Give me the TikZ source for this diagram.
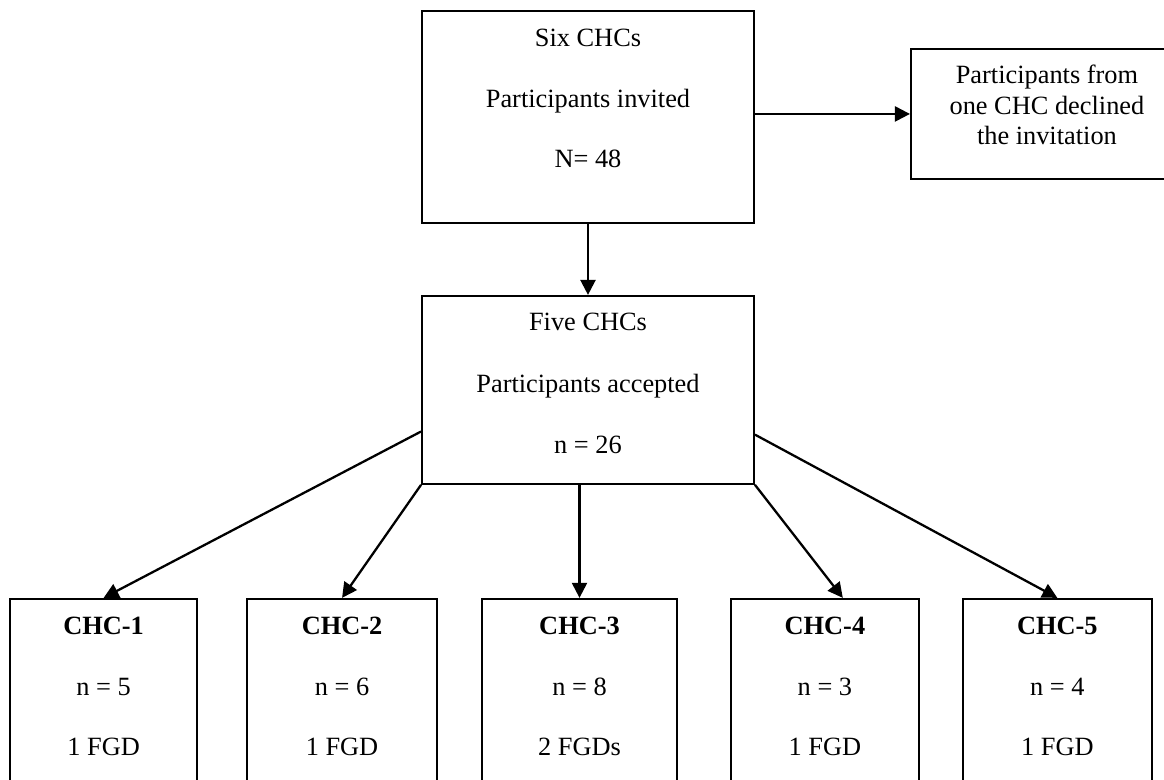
\documentclass[tikz,border=0pt]{standalone}
\usepackage{fontspec}
\setmainfont{Liberation Serif}
\usepackage{tikz}
\usetikzlibrary{arrows.meta,positioning}
\tikzstyle{recNode} = [rectangle, draw=black, line width=1.1pt, inner sep=0pt, align=center, font=\fontsize{15}{17.5}\selectfont]
\tikzstyle{bigNode} = [recNode, minimum width=6.64cm]
\tikzstyle{chcNode} = [recNode, text height=3.14cm, text depth=0.5cm]
\tikzstyle{arrow} = [line width=1.3pt,->,>={Triangle[length=0.3cm,width=0.3cm]},draw=black]

\begin{document}
\begin{tikzpicture}
        \useasboundingbox (0,0) rectangle (23.28,15.6);
        \clip (0,0) rectangle (23.28,15.6);

        \node (inv) [bigNode, text height=3.14cm, text depth=1.1cm, anchor=north] at (11.76,15.4) {Six CHCs\\[0.595cm]Participants invited\\[0.595cm]N= 48};
        \node (decl) [recNode, minimum width=5.44cm, text height=1.92cm, text depth=0.68cm, right=3.1cm of inv, yshift=0.06cm] {Participants from\\one CHC declined\\the invitation};
        \node (acc) [bigNode, text height=3.16cm, text depth=0.6cm, below=1.42cm of inv] {Five CHCs\\[0.615cm]Participants accepted\\[0.615cm]n = 26};

        \node (c3) [chcNode, minimum width=3.9cm, below=2.26cm of acc, xshift=-0.17cm] {\textbf{CHC-3}\\[0.595cm]n = 8\\[0.595cm]2 FGDs};
        \node (c2) [chcNode, minimum width=3.8cm, left=0.86cm of c3] {\textbf{CHC-2}\\[0.595cm]n = 6\\[0.595cm]1 FGD};
        \node (c1) [chcNode, minimum width=3.74cm, left=0.96cm of c2] {\textbf{CHC-1}\\[0.595cm]n = 5\\[0.595cm]1 FGD};
        \node (c4) [chcNode, minimum width=3.76cm, right=1.04cm of c3] {\textbf{CHC-4}\\[0.595cm]n = 3\\[0.595cm]1 FGD};
        \node (c5) [chcNode, minimum width=3.78cm, right=0.84cm of c4] {\textbf{CHC-5}\\[0.595cm]n = 4\\[0.595cm]1 FGD};

        \draw [arrow] (decl.west -| inv.east) -- (decl.west);
        \draw [arrow] (inv) -- (acc);

        \draw [arrow] (acc.194.5) -- (c1.north);
        \draw [arrow] (acc.south west) -- (c2.north);
        \draw [arrow] (c3.north |- acc.south) -- (c3.north);
        \draw [arrow] (acc.south east) -- (c4.79);
        \draw [arrow] (acc.345.5) -- (c5.north);

    \end{tikzpicture}
\end{document}
